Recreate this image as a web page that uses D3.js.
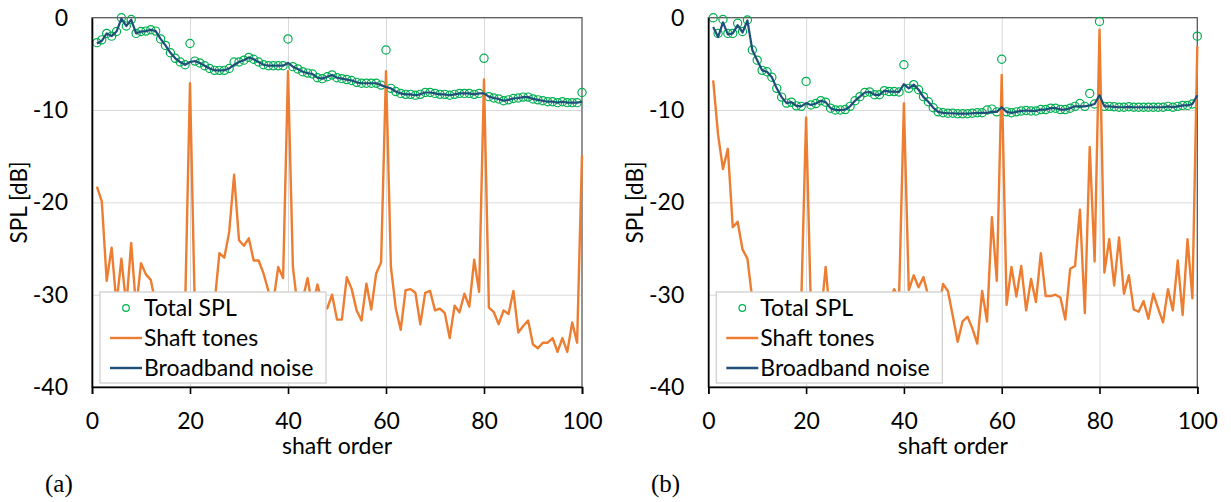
<!DOCTYPE html>
<html lang="en">
<head>
    <meta charset="UTF-8">
    <script src="https://cdnjs.cloudflare.com/ajax/libs/d3/7.8.5/d3.min.js"></script>
    <style>
        body { margin: 0; background: #fff; }
        text { font-family: Lato, "Open Sans", sans-serif; fill: #000; }
        .grid line { stroke: #d9d9d9; stroke-width: 1; }
        .grid path { display: none; }
    </style>
</head>
<body>
<svg id="chart" width="1231" height="502"></svg>
<script>
    // shaft orders 1..100
    const orders = d3.range(1, 101);
    const xTicks = [0, 20, 40, 60, 80, 100];
    const yTicks = [0, -10, -20, -30, -40];

    // panel (a)
    const totalA = [-2.7, -2.4, -1.7, -2.0, -1.5, 0.0, -0.9, -0.2, -1.7, -1.5,
        -1.45, -1.3, -1.45, -2.3, -3.0, -3.8, -4.4, -4.8, -5.1, -2.8,
        -4.7, -4.9, -5.2, -5.5, -5.7, -5.7, -5.7, -5.5, -4.8, -4.8,
        -4.6, -4.3, -4.5, -4.8, -5.1, -5.2, -5.2, -5.2, -5.2, -2.3,
        -5.3, -5.55, -5.85, -6.0, -6.1, -6.5, -6.6, -6.4, -6.2, -6.5,
        -6.6, -6.7, -6.8, -7.0, -7.1, -7.1, -7.1, -7.1, -7.3, -3.5,
        -7.65, -8.0, -8.2, -8.3, -8.3, -8.4, -8.3, -8.1, -8.1, -8.2,
        -8.3, -8.3, -8.4, -8.3, -8.2, -8.2, -8.2, -8.3, -8.2, -4.4,
        -8.55, -8.7, -8.8, -9.0, -8.9, -8.75, -8.7, -8.6, -8.6, -8.8,
        -8.9, -9.0, -9.1, -9.1, -9.2, -9.1, -9.2, -9.2, -9.2, -8.1];
    const shaftA = [-18.3, -19.9, -28.5, -24.9, -31.0, -26.1, -31.2, -24.4, -31.5, -26.6,
        -27.8, -28.4, -31.0, -32.5, -31.5, -33.5, -32.0, -34.0, -31.5, -7.1,
        -32.0, -33.0, -31.5, -33.5, -31.0, -25.5, -26.0, -23.2, -17.0, -24.1,
        -24.7, -23.9, -26.3, -26.3, -27.7, -29.6, -30.8, -27.0, -28.2, -5.8,
        -27.0, -31.5, -30.5, -28.2, -31.5, -28.9, -31.0, -31.5, -30.0, -32.7,
        -32.7, -28.1, -29.4, -31.7, -32.8, -28.8, -31.6, -27.7, -26.5, -5.8,
        -27.0, -31.5, -33.8, -29.5, -29.4, -29.8, -33.2, -29.8, -29.6, -31.7,
        -31.5, -32.0, -34.7, -31.2, -31.9, -29.9, -31.3, -26.2, -29.7, -6.7,
        -31.4, -31.9, -33.2, -31.7, -32.1, -29.6, -34.1, -33.4, -32.8, -35.4,
        -35.8, -35.2, -35.2, -34.7, -36.2, -34.7, -36.2, -33.0, -35.2, -14.9];
    const broadA = [-2.8, -2.5, -1.7, -2.0, -1.5, -0.1, -0.9, -0.2, -1.7, -1.5,
        -1.45, -1.3, -1.45, -2.3, -3.0, -3.8, -4.4, -4.8, -5.1, -4.8,
        -4.7, -4.9, -5.2, -5.5, -5.7, -5.7, -5.7, -5.5, -5.1, -4.8,
        -4.6, -4.3, -4.5, -4.8, -5.1, -5.2, -5.2, -5.2, -5.2, -4.9,
        -5.3, -5.55, -5.85, -6.0, -6.1, -6.5, -6.6, -6.4, -6.2, -6.5,
        -6.6, -6.7, -6.8, -7.0, -7.1, -7.1, -7.1, -7.1, -7.3, -7.5,
        -7.65, -8.0, -8.2, -8.3, -8.3, -8.4, -8.3, -8.1, -8.1, -8.2,
        -8.3, -8.3, -8.4, -8.3, -8.2, -8.2, -8.2, -8.3, -8.2, -8.2,
        -8.55, -8.7, -8.8, -9.0, -8.9, -8.75, -8.7, -8.6, -8.6, -8.8,
        -8.9, -9.0, -9.1, -9.1, -9.2, -9.1, -9.2, -9.2, -9.2, -9.1];

    // panel (b)
    const totalB = [0.0, -1.7, -0.2, -1.7, -1.7, -0.6, -1.5, -0.25, -3.5, -4.6,
        -5.7, -5.85, -6.45, -7.65, -8.6, -9.25, -9.15, -9.55, -9.6, -6.9,
        -9.45, -9.3, -9.0, -9.15, -9.8, -10.0, -10.0, -9.95, -9.6, -9.0,
        -8.55, -8.1, -8.05, -8.35, -8.35, -7.9, -8.0, -8.0, -8.05, -5.1,
        -7.65, -7.25, -7.8, -8.55, -9.1, -9.75, -10.2, -10.3, -10.35, -10.35,
        -10.4, -10.4, -10.4, -10.35, -10.3, -10.3, -10.0, -9.9, -10.2, -4.5,
        -10.2, -10.3, -10.2, -10.1, -10.05, -10.1, -10.1, -9.95, -9.95, -9.8,
        -9.8, -9.95, -9.95, -9.8, -9.6, -9.3, -9.6, -8.2, -9.35, -0.4,
        -9.6, -9.6, -9.65, -9.7, -9.7, -9.65, -9.7, -9.7, -9.7, -9.7,
        -9.7, -9.7, -9.7, -9.6, -9.7, -9.6, -9.5, -9.5, -9.35, -2.0];
    const shaftB = [-6.8, -12.7, -16.4, -14.2, -22.7, -22.1, -25.1, -26.1, -30.5, -31.5,
        -33.0, -32.0, -34.0, -33.0, -35.0, -34.0, -33.5, -35.5, -31.0, -10.8,
        -32.0, -34.0, -32.5, -27.0, -33.0, -34.5, -33.0, -35.0, -34.0, -35.5,
        -34.0, -33.0, -35.0, -34.5, -33.0, -32.0, -31.0, -29.4, -30.5, -9.3,
        -29.5, -27.9, -29.2, -28.1, -30.2, -31.5, -32.0, -28.85, -29.6, -32.3,
        -35.1, -32.9, -32.4, -33.65, -35.3, -29.6, -32.9, -21.6, -28.5, -6.2,
        -31.1, -27.0, -30.2, -26.9, -31.7, -28.3, -30.8, -25.5, -30.15, -30.15,
        -30.0, -30.3, -32.7, -27.2, -26.9, -20.8, -32.0, -14.0, -26.4, -1.3,
        -27.6, -24.0, -29.0, -23.8, -29.9, -27.9, -31.6, -31.85, -30.7, -32.6,
        -29.9, -31.5, -33.0, -29.4, -31.7, -26.3, -32.2, -24.0, -30.4, -3.1];
    const broadB = [-1.0, -2.1, -0.5, -1.8, -1.7, -0.8, -1.6, -0.3, -3.5, -4.6,
        -5.7, -5.85, -6.45, -7.65, -8.6, -9.25, -9.15, -9.55, -9.6, -9.25,
        -9.45, -9.3, -9.0, -9.15, -9.8, -10.0, -10.0, -9.95, -9.6, -9.0,
        -8.55, -8.1, -8.05, -8.35, -8.35, -7.9, -8.0, -8.0, -8.05, -7.2,
        -7.65, -7.25, -7.8, -8.6, -9.1, -9.75, -10.2, -10.3, -10.35, -10.35,
        -10.4, -10.4, -10.4, -10.35, -10.3, -10.3, -10.3, -10.2, -10.2, -9.7,
        -10.2, -10.3, -10.2, -10.1, -10.05, -10.1, -10.1, -9.95, -9.95, -9.8,
        -9.8, -9.95, -9.95, -9.8, -9.6, -9.6, -9.6, -9.5, -9.35, -8.4,
        -9.6, -9.6, -9.65, -9.7, -9.7, -9.65, -9.7, -9.7, -9.7, -9.7,
        -9.7, -9.7, -9.7, -9.6, -9.7, -9.6, -9.5, -9.5, -9.35, -8.4];

    const legendItems = ['Total SPL', 'Shaft tones', 'Broadband noise'];

    const svg = d3.select('#chart');

    drawPanel({left: 92, right: 582, label: '(a)', labelX: 45,
        total: totalA, shaft: shaftA, broad: broadA});
    drawPanel({left: 708.3, right: 1197.3, label: '(b)', labelX: 651,
        total: totalB, shaft: shaftB, broad: broadB});

    function drawPanel(p) {
        const top = 17.7, bottom = 387;
        const xScale = d3.scaleLinear().domain([0, 100]).range([p.left, p.right]);
        const yScale = d3.scaleLinear().domain([-40, 0]).range([bottom, top]);
        const g = svg.append('g');

        // gridlines
        g.append('g').attr('class', 'grid')
            .attr('transform', `translate(0,${bottom})`)
            .call(d3.axisBottom(xScale).tickValues([20, 40, 60, 80])
                .tickSize(-(bottom - top)).tickFormat(''));
        g.append('g').attr('class', 'grid')
            .attr('transform', `translate(${p.left},0)`)
            .call(d3.axisLeft(yScale).tickValues([-10, -20, -30])
                .tickSize(-(p.right - p.left)).tickFormat(''));

        // frame
        g.append('rect')
            .attr('x', p.left).attr('y', top)
            .attr('width', p.right - p.left).attr('height', bottom - top)
            .attr('fill', 'none').attr('stroke', '#595959').attr('stroke-width', 1.3);

        // series
        const pts = arr => orders.map((o, i) => [o, arr[i]]);
        const line = d3.line().x(d => xScale(d[0])).y(d => yScale(d[1]));

        g.append('g').selectAll('circle')
            .data(pts(p.total)).enter()
            .append('circle')
            .attr('cx', d => xScale(d[0]))
            .attr('cy', d => yScale(d[1]))
            .attr('r', 4.1)
            .attr('fill', 'none')
            .attr('stroke', '#00b050')
            .attr('stroke-width', 1.2);

        g.append('path').datum(pts(p.shaft))
            .attr('d', line)
            .attr('fill', 'none')
            .attr('stroke', '#ed7d31')
            .attr('stroke-width', 2.4)
            .attr('stroke-linejoin', 'round');

        g.append('path').datum(pts(p.broad))
            .attr('d', line)
            .attr('fill', 'none')
            .attr('stroke', '#1f4e79')
            .attr('stroke-width', 2.2)
            .attr('stroke-linejoin', 'round');

        // axes
        const xAxis = g.append('g')
            .attr('transform', `translate(0,${bottom})`)
            .call(d3.axisBottom(xScale).tickValues(xTicks).tickSize(7)
                .tickPadding(19).tickFormat(String));
        const yAxis = g.append('g')
            .attr('transform', `translate(${p.left},0)`)
            .call(d3.axisLeft(yScale).tickValues(yTicks).tickSize(0)
                .tickPadding(24).tickFormat(String));
        [xAxis, yAxis].forEach(a => {
            a.selectAll('path').attr('stroke', '#000').attr('stroke-width', 1.6);
            a.selectAll('line').attr('stroke', '#000').attr('stroke-width', 1.6);
            a.selectAll('text').style('font-size', '23px')
                .style('font-family', 'Lato, sans-serif').attr('fill', '#000');
        });

        // axis titles
        g.append('text')
            .attr('x', (p.left + p.right) / 2).attr('y', 454)
            .attr('text-anchor', 'middle')
            .style('font-size', '23px')
            .text('shaft order');
        g.append('text')
            .attr('transform', `translate(${p.left - 65},${(top + bottom) / 2}) rotate(-90)`)
            .attr('text-anchor', 'middle')
            .style('font-size', '22.5px')
            .text('SPL [dB]');

        // legend
        const lx = p.left + 8, ly = 292;
        const lg = g.append('g').attr('transform', `translate(${lx},${ly})`);
        lg.append('rect')
            .attr('width', 226).attr('height', 91)
            .attr('fill', '#fff').attr('stroke', '#d0d0d0').attr('stroke-width', 1.3);
        legendItems.forEach((name, i) => {
            const cy = 16 + i * 30;
            if (i === 0) {
                lg.append('circle').attr('cx', 26).attr('cy', cy).attr('r', 3.3)
                    .attr('fill', 'none').attr('stroke', '#00b050').attr('stroke-width', 1.2);
            } else {
                lg.append('line').attr('x1', 10).attr('x2', 42).attr('y1', cy).attr('y2', cy)
                    .attr('stroke', i === 1 ? '#ed7d31' : '#1f4e79').attr('stroke-width', 2.4);
            }
            lg.append('text')
                .attr('x', 44).attr('y', cy)
                .attr('dy', '0.36em')
                .style('font-size', '23px')
                .text(name);
        });

        // panel label
        svg.append('text')
            .attr('x', p.labelX).attr('y', 492)
            .style('font-family', '"Liberation Serif", serif')
            .style('font-size', '25px')
            .text(p.label);
    }
</script>
</body>
</html>
